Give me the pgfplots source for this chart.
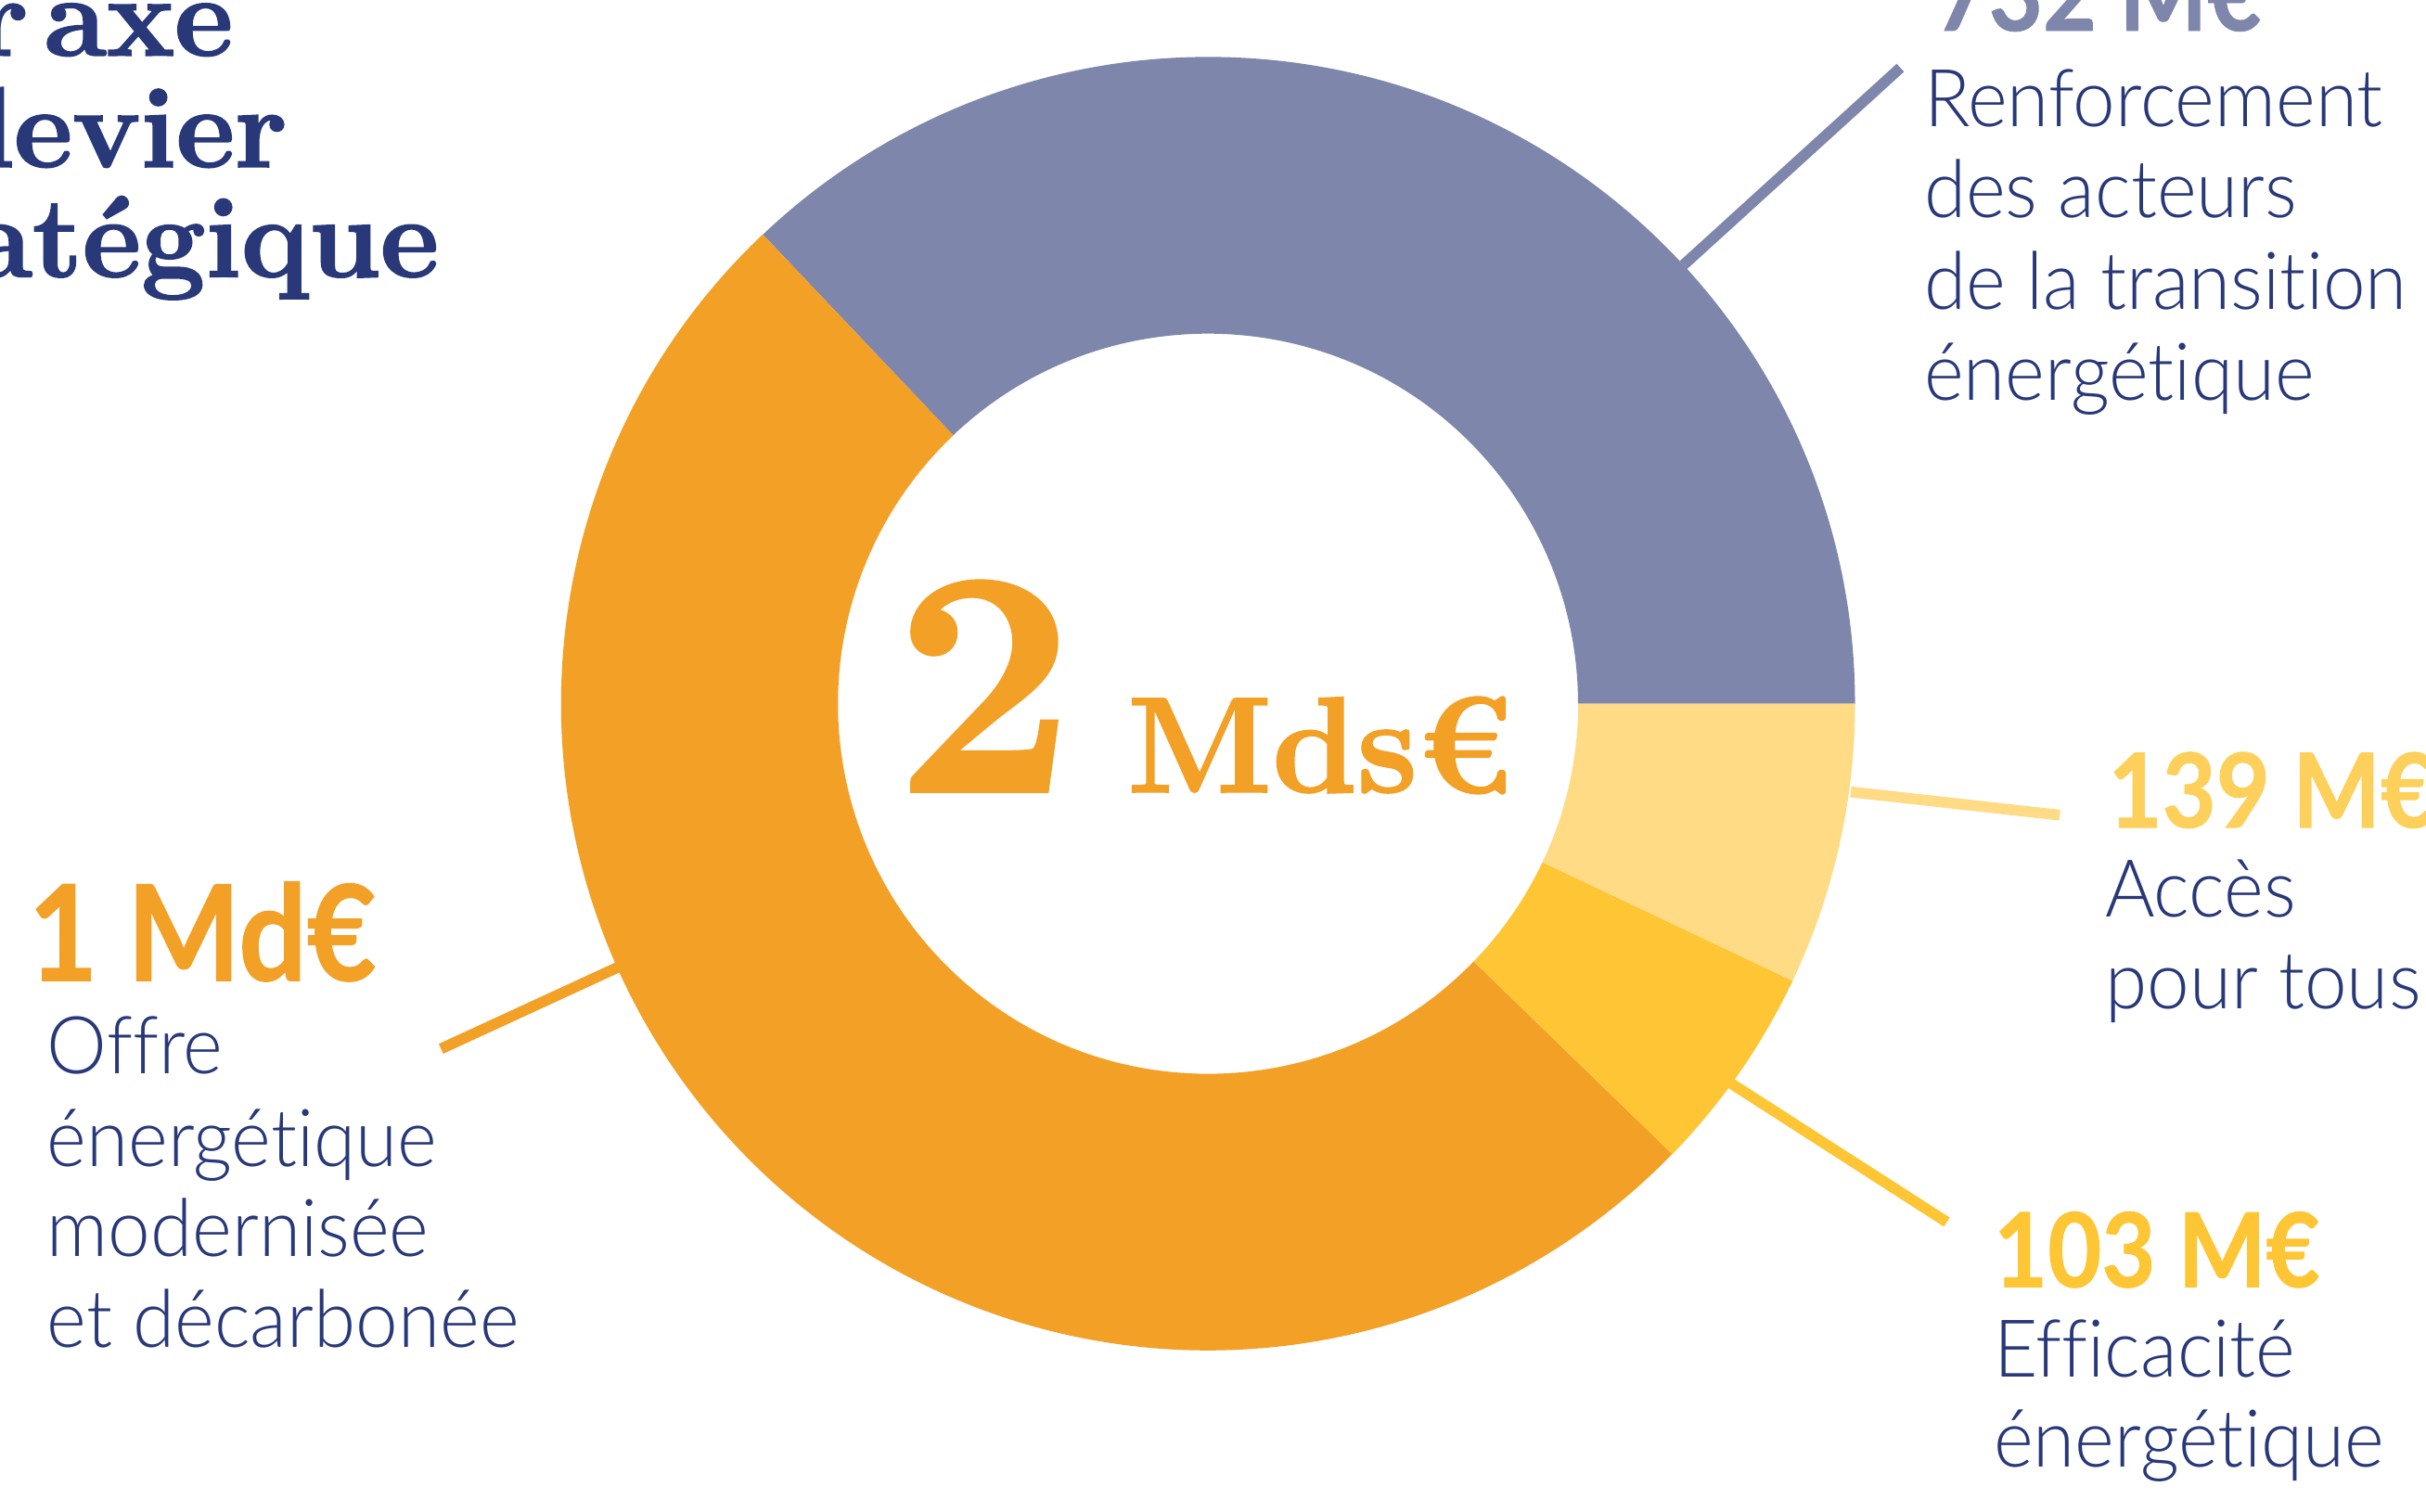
\documentclass[border=0pt]{standalone}
\usepackage{fontspec}
\usepackage{pgfplots}
\usepackage{pgfplotstable}
\pgfplotsset{compat=1.18}
\newfontfamily\lightf{Lato Light}[FakeStretch=0.95, Ligatures=NoCommon]
\newfontfamily\boldf{Lato}[FakeStretch=0.9, BoldFeatures={FakeBold=0.8}]
\newfontfamily\didone{Latin Modern Roman}[UprightFont=*, BoldFeatures={FakeBold=1.6}]
\definecolor{cPurple}{HTML}{7E86AB}
\definecolor{cOrange}{HTML}{F3A027}
\definecolor{cYellow}{HTML}{FEC535}
\definecolor{cLight}{HTML}{FEDB84}
\definecolor{cLightTxt}{HTML}{FCD05A}
\definecolor{cNavy}{HTML}{283878}
\pgfplotstableread{
label value
Renforcement 732
Offre 1000
Efficacite 103
Acces 139
}\budget
\begin{document}
\begin{tikzpicture}
\pgfplotstablegetelem{0}{value}\of\budget \let\vA\pgfplotsretval
\pgfplotstablegetelem{1}{value}\of\budget \let\vB\pgfplotsretval
\pgfplotstablegetelem{2}{value}\of\budget \let\vC\pgfplotsretval
\pgfplotstablegetelem{3}{value}\of\budget \let\vD\pgfplotsretval
\pgfmathsetmacro\tot{\vA+\vB+\vC+\vD}
\pgfmathsetmacro\aO{0}
\pgfmathsetmacro\aA{\vA/\tot*360}
\pgfmathsetmacro\aB{\aA+\vB/\tot*360}
\pgfmathsetmacro\aC{\aB+\vC/\tot*360}
\pgfmathsetmacro\aD{360}
\def\cx{780.6}\def\cy{521.8}\def\Ro{418.1}\def\Ri{239.2}
\useasboundingbox (0,0) rectangle (31.36cm,19.536cm);
\clip (0,0) rectangle (31.36cm,19.536cm);
\begin{axis}[at={(0,0)}, anchor=south west, x=0.02cm, y=0.02cm,
  xmin=0, xmax=1568, ymin=0, ymax=976.8, hide axis, clip=false]
% donut sectors
\fill[cPurple] (axis cs:{\cx+\Ro*cos(\aO)},{\cy+\Ro*sin(\aO)}) arc[start angle=\aO, end angle=\aA, radius=8.362cm]
  -- (axis cs:{\cx+\Ri*cos(\aA)},{\cy+\Ri*sin(\aA)}) arc[start angle=\aA, end angle=\aO, radius=4.784cm] -- cycle;
\fill[cOrange] (axis cs:{\cx+\Ro*cos(\aA)},{\cy+\Ro*sin(\aA)}) arc[start angle=\aA, end angle=\aB, radius=8.362cm]
  -- (axis cs:{\cx+\Ri*cos(\aB)},{\cy+\Ri*sin(\aB)}) arc[start angle=\aB, end angle=\aA, radius=4.784cm] -- cycle;
\fill[cYellow] (axis cs:{\cx+\Ro*cos(\aB)},{\cy+\Ro*sin(\aB)}) arc[start angle=\aB, end angle=\aC, radius=8.362cm]
  -- (axis cs:{\cx+\Ri*cos(\aC)},{\cy+\Ri*sin(\aC)}) arc[start angle=\aC, end angle=\aB, radius=4.784cm] -- cycle;
\fill[cLight] (axis cs:{\cx+\Ro*cos(\aC)},{\cy+\Ro*sin(\aC)}) arc[start angle=\aC, end angle=\aD, radius=8.362cm]
  -- (axis cs:{\cx+\Ri*cos(\aD)},{\cy+\Ri*sin(\aD)}) arc[start angle=\aD, end angle=\aC, radius=4.784cm] -- cycle;
% leader lines
\draw[cPurple, line width=0.14cm] (axis cs:1228,932.8) -- (axis cs:1087.8,805.3);
\draw[cLight, line width=0.14cm] (axis cs:1196,464.8) -- (axis cs:1331,449.8);
\draw[cYellow, line width=0.14cm] (axis cs:1118,276.8) -- (axis cs:1258,186.8);
\draw[cOrange, line width=0.14cm] (axis cs:400,351.8) -- (axis cs:285,298.8);
% title (cut by the left edge)
\begin{scope}[every node/.style={inner sep=0, anchor=base east, text=cNavy, font=\didone\bfseries\fontsize{42}{48}\selectfont}]
\node at (axis cs:151,940.8) {Par\kern0.14em axe};
\node at (axis cs:186,868.8) {et\kern0.14em levier};
\node at (axis cs:284,797.8) {stratégique};
\end{scope}
% centre
\node[inner sep=0, anchor=base west, text=cOrange, font=\didone\bfseries\fontsize{117}{120}\selectfont] at (axis cs:578,465.8) {2};
\node[inner sep=0, anchor=base west, text=cOrange, font=\didone\bfseries\fontsize{50}{60}\selectfont] at (axis cs:728,464.8) {Mds€};
% labels
\begin{scope}[every node/.style={inner sep=0, anchor=base west, text=cNavy, font=\lightf\fontsize{29.4}{34}\selectfont}]
\node at (axis cs:1243,894.8) {Renforcement};
\node at (axis cs:1243,835.8) {des acteurs};
\node at (axis cs:1243,776.8) {de la transition};
\node at (axis cs:1243,717.8) {énergétique};
\node at (axis cs:1360,383.8) {Accès};
\node at (axis cs:1360,324.8) {pour tous};
\node at (axis cs:1288,86.8) {Efficacité};
\node at (axis cs:1288,28.8) {énergétique};
\node at (axis cs:30,282.8) {Offre};
\node at (axis cs:30,222.8) {énergétique};
\node at (axis cs:30,164.8) {modernisée};
\node at (axis cs:30,105.8) {et décarbonée};
\end{scope}
\node[inner sep=0, anchor=base west, text=cPurple, font=\boldf\bfseries\fontsize{38}{40}\selectfont] at (axis cs:1250,956.8) {732 M€};
\node[inner sep=0, anchor=base west, text=cLightTxt, font=\boldf\bfseries\fontsize{38}{40}\selectfont] at (axis cs:1362,441.8) {139 M€};
\node[inner sep=0, anchor=base west, text=cYellow, font=\boldf\bfseries\fontsize{38}{40}\selectfont] at (axis cs:1288,144.8) {103 M€};
\node[inner sep=0, anchor=base west, text=cOrange, font=\boldf\bfseries\fontsize{49}{52}\selectfont] at (axis cs:18,342.8) {1 Md€};
\end{axis}
\end{tikzpicture}
\end{document}
